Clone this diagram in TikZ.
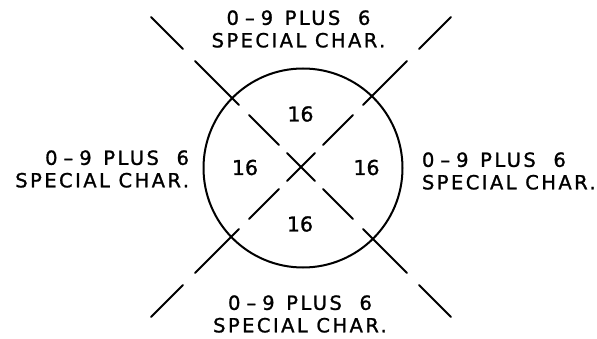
\documentclass[tikz,border=0pt]{standalone}
\usepackage{fontspec}
\newfontfamily\leroy[LetterSpace=12.5,FakeBold=1.2]{DejaVu Sans}
\newfontfamily\leroynum[FakeBold=1.2]{DejaVu Sans}
\newcommand\zeronine{0\kern6pt–\kern6pt9\hspace{3pt} PLUS\hspace{9pt} 6}
\begin{document}
\begin{tikzpicture}[x=1pt,y=-1pt,line width=2pt,line cap=round,
    lbl/.style={inner sep=0pt,font=\leroy\fontsize{19.5}{22.5}\selectfont},
    num/.style={inner sep=0pt,font=\leroynum\fontsize{20.5}{22}\selectfont}]
		\useasboundingbox (0,0) rectangle (597,339);
		\coordinate (o) at (301,167);
		\draw (303,168) circle (99.5);
		% broken diagonals
		\foreach \sx/\sy in {1/1,1/-1,-1/1,-1/-1}
		  \foreach \a/\b in {118/150,62/106,22/52}
		    \draw ([shift={(\a*\sx,\a*\sy)}]o)--([shift={(\b*\sx,\b*\sy)}]o);
		\draw ([shift={(-14,-14)}]o)--([shift={(14,14)}]o) ([shift={(14,-14)}]o)--([shift={(-14,14)}]o);
		% counts
		\node[num] (ntop) at (300.5,114) {16};
		\node[num] (nleft) at (245,167.5) {16};
		\node[num] (nright) at (366.5,167.5) {16};
		\node[num] (nbot) at (300,224) {16};
		% labels
		\node[lbl,align=center] (ltop) at (298.5,29) {\zeronine\\SPECIAL CHAR.};
		\node[lbl,align=right,anchor=east] (lleft) at (190,169) {\zeronine\\SPECIAL CHAR.};
		\node[lbl,align=left,anchor=west] (lright) at (421,171) {\zeronine\\SPECIAL CHAR.};
		\node[lbl,align=center] (lbot) at (300,314) {\zeronine\\SPECIAL CHAR.};
\end{tikzpicture}
\end{document}
